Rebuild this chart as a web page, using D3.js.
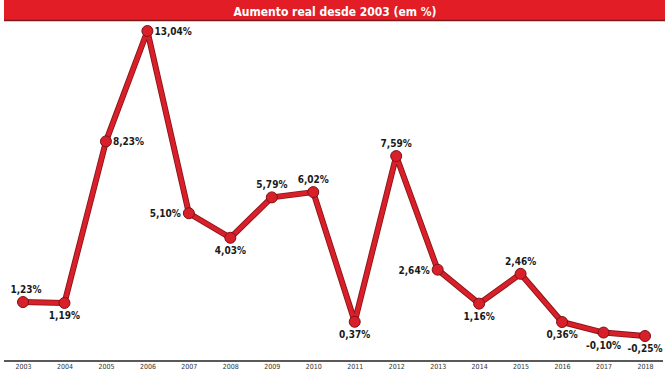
<!DOCTYPE html>
<html>
<head>
<meta charset="utf-8">
<script src="https://cdn.jsdelivr.net/npm/d3@7"></script>
<style>
  body { margin: 0; background: #fff; }
  svg { display: block; }
</style>
</head>
<body>
<div id="wrapper"></div>
<script>
const years = ["2003","2004","2005","2006","2007","2008","2009","2010","2011","2012","2013","2014","2015","2016","2017","2018"]
const values = [1.23, 1.19, 8.23, 13.04, 5.10, 4.03, 5.79, 6.02, 0.37, 7.59, 2.64, 1.16, 2.46, 0.36, -0.10, -0.25]
const labelSide = ["top","bottom","right","right","left","bottom","top","top","bottom","top","left","bottom","top","bottom","bottom","bottom"]
const title = "Aumento real desde 2003 (em %)"

const dataset = years.map((y, i) => ({year: y, value: values[i], side: labelSide[i]}))

let dimensions = {
  width: 669,
  height: 371,
}

const wrapper = d3.select("#wrapper")
  .append("svg")
    .attr("width", dimensions.width)
    .attr("height", dimensions.height)

// header band
wrapper.append("rect")
    .attr("x", 4)
    .attr("y", 0)
    .attr("width", 661)
    .attr("height", 20)
    .attr("fill", "#e21d25")
wrapper.append("line")
    .attr("x1", 4).attr("x2", 665)
    .attr("y1", 20.5).attr("y2", 20.5)
    .attr("stroke", "#7a1a1a")
    .attr("stroke-width", 1.5)
wrapper.append("text")
    .attr("x", 335)
    .attr("y", 16)
    .attr("text-anchor", "middle")
    .attr("fill", "#fff")
    .style("font-family", "'DejaVu Sans Condensed', 'Liberation Sans Narrow', sans-serif")
    .style("font-weight", "bold")
    .style("font-size", "12px")
    .text(title)

const xScale = d3.scalePoint()
    .domain(years)
    .range([23, 645])

const yScale = d3.scaleLinear()
    .domain([-0.25, 13.04])
    .range([336, 31])

const xAccessor = d => xScale(d.year)
const yAccessor = d => yScale(d.value)

// x axis
const xAxisGenerator = d3.axisBottom()
    .scale(xScale)
    .tickSize(0)
    .tickPadding(3)

const xAxis = wrapper.append("g")
    .attr("transform", "translate(0, 361)")
    .call(xAxisGenerator)
xAxis.select(".domain")
    .attr("d", "M4,0H663")
    .attr("stroke", "#222")
    .attr("stroke-width", 1.5)
xAxis.selectAll("text")
    .attr("fill", "#333")
    .style("font-family", "'DejaVu Sans Condensed', sans-serif")
    .style("font-size", "7px")

const lineGenerator = d3.line()
    .x(xAccessor)
    .y(yAccessor)

wrapper.append("path")
    .attr("d", lineGenerator(dataset))
    .attr("fill", "none")
    .attr("stroke", "#8a1417")
    .attr("stroke-width", 6)
    .attr("stroke-linejoin", "round")

wrapper.append("path")
    .attr("d", lineGenerator(dataset))
    .attr("fill", "none")
    .attr("stroke", "#d9202a")
    .attr("stroke-width", 4.2)
    .attr("stroke-linejoin", "round")

wrapper.selectAll("circle")
    .data(dataset)
  .enter().append("circle")
    .attr("cx", xAccessor)
    .attr("cy", yAccessor)
    .attr("r", 5.5)
    .attr("fill", "#d9202a")
    .attr("stroke", "#7a1215")
    .attr("stroke-width", 1)

const offsets = {
  top: {dx: 0, dy: -9, anchor: "middle"},
  bottom: {dx: 0, dy: 16, anchor: "middle"},
  left: {dx: -8, dy: 4, anchor: "end"},
  right: {dx: 7, dy: 4, anchor: "start"},
}

wrapper.selectAll(".label")
    .data(dataset)
  .enter().append("text")
    .attr("class", "label")
    .attr("x", d => xAccessor(d) + offsets[d.side].dx + (d.year === "2003" ? 3 : 0))
    .attr("y", d => yAccessor(d) + offsets[d.side].dy)
    .attr("text-anchor", d => offsets[d.side].anchor)
    .attr("fill", "#1a1a1a")
    .style("font-family", "'DejaVu Sans Condensed', 'Liberation Sans Narrow', sans-serif")
    .style("font-weight", "bold")
    .style("font-size", "10px")
    .text(d => d.value.toFixed(2).replace(".", ",") + "%")
</script>
</body>
</html>
